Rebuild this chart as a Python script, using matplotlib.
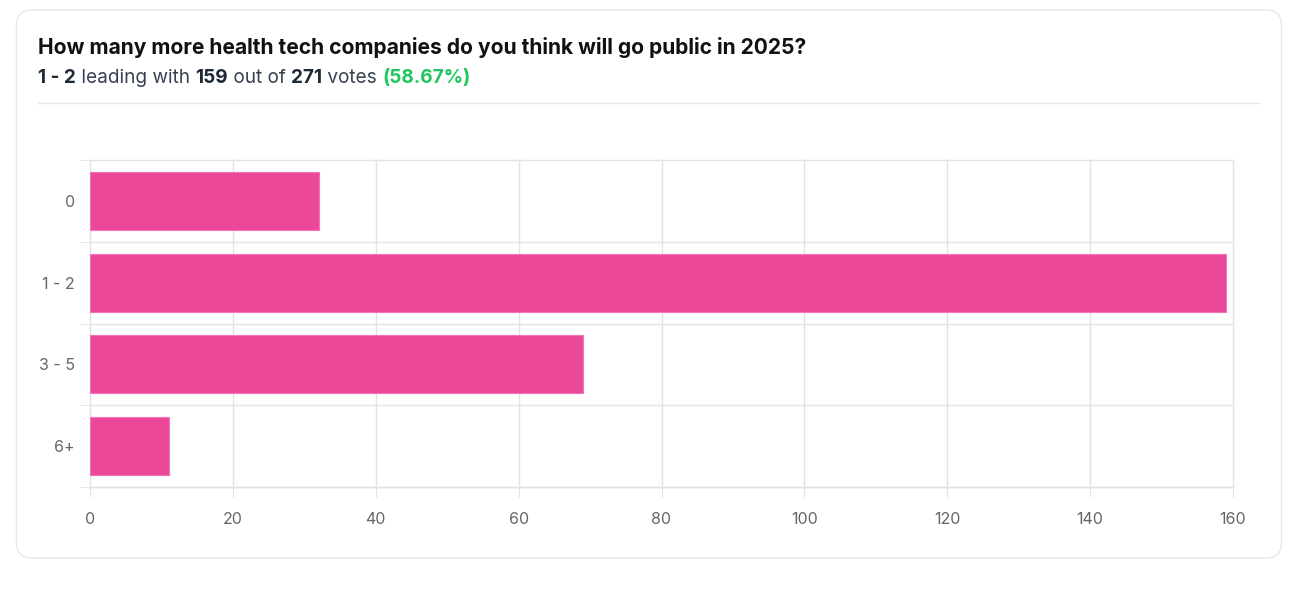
import matplotlib.pyplot as plt
from matplotlib.patches import FancyBboxPatch
import numpy as np

plt.rcParams['font.family'] = ['Inter', 'DejaVu Sans']

# poll data
options = ['0', '1 - 2', '3 - 5', '6+']
votes = [32, 159, 69, 11]
x_ticks = [0, 20, 40, 60, 80, 100, 120, 140, 160]

title = 'How many more health tech companies do you think will go public in 2025?'
total = sum(votes)
lead = int(np.argmax(votes))
pct = votes[lead] / total * 100

W, H = 1292, 597
fig = plt.figure(figsize=(W / 100, H / 100), dpi=100)
fig.patch.set_facecolor('white')

# card background
card = FancyBboxPatch((16.5 / W, 1 - 558 / H), 1265 / W, 548 / H,
                      boxstyle='round,pad=0,rounding_size=0.012',
                      transform=fig.transFigure, facecolor='white',
                      edgecolor='#e5e7eb', linewidth=1.0, mutation_aspect=W / H,
                      zorder=-5)
fig.patches.append(card)

fig.text(38 / W, 1 - 48 / H, title, fontsize=15.1, fontweight='bold',
         color='#111111', va='center', ha='left')

# subtitle made of pieces
pieces = [
    (options[lead], 'bold', '#1f2937'),
    (' leading with ', 'normal', '#374151'),
    (str(votes[lead]), 'bold', '#1f2937'),
    (' out of ', 'normal', '#374151'),
    (str(total), 'bold', '#1f2937'),
    (' votes ', 'normal', '#374151'),
    ('(%.2f%%)' % pct, 'bold', '#22c55e'),
]
renderer = fig.canvas.get_renderer()
xpos = 38
for txt, wt, col in pieces:
    t = fig.text(xpos / W, 1 - 78 / H, txt, fontsize=13.7, fontweight=wt,
                 color=col, va='center', ha='left')
    bb = t.get_window_extent(renderer=renderer)
    xpos += bb.width

# separator
fig.add_artist(plt.Line2D([38 / W, 1260 / W], [1 - 102.5 / H, 1 - 102.5 / H],
                          transform=fig.transFigure, color='#e5e7eb', lw=1))

ax = fig.add_axes([90 / W, 110 / H, 1143 / W, 327 / H])
ax.set_zorder(2)
ax.patch.set_alpha(0)
y = np.arange(len(options))
ax.barh(y, votes, height=0.71, color='#ec4899', edgecolor='#f472b6',
        linewidth=0.8, zorder=3)

ax.set_xlim(0, 160)
ax.set_ylim(len(options) - 0.5, -0.5)
ax.set_xticks(x_ticks)
ax.set_yticks(y)
ax.set_yticklabels(options)
ax.set_yticks(np.arange(-0.5, len(options), 1), minor=True)

for s in ax.spines.values():
    s.set_visible(False)

ax.grid(axis='x', which='major', color='#e3e3e3', lw=1, zorder=0)
ax.grid(axis='y', which='minor', color='#e3e3e3', lw=1, zorder=0)
for tk in ax.xaxis.get_major_ticks() + ax.yaxis.get_minor_ticks():
    tk.gridline.set_clip_on(False)
ax.axhline(len(options) - 0.5, color='#d9d9d9', lw=1, zorder=1, clip_on=False)

ax.tick_params(axis='x', which='major', length=7, color='#e3e3e3',
               labelsize=11.5, labelcolor='#666666', pad=11)
ax.tick_params(axis='y', which='major', length=0, labelsize=11.5,
               labelcolor='#666666', pad=11)
ax.tick_params(axis='y', which='minor', length=7, color='#e3e3e3')

fig.savefig('out.png', dpi=100, facecolor='white')
